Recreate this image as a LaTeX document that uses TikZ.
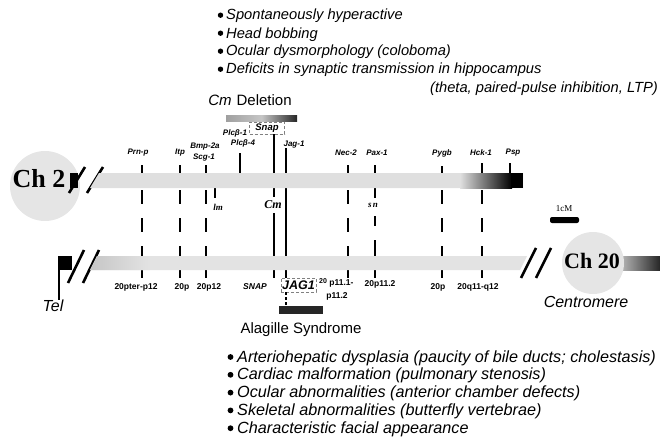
\documentclass[tikz,border=0pt]{standalone}
\usepackage{fontspec}
\setmainfont{Liberation Serif}
\setsansfont{Liberation Sans}
\usetikzlibrary{positioning,calc}

\begin{document}
\begin{tikzpicture}[x=1pt, y=-1pt,
  sym/.style={anchor=base west, inner sep=0pt, font=\sffamily\itshape\fontsize{14.7}{17}\selectfont},
  symlow/.style={sym, font=\sffamily\itshape\fontsize{16.2}{18}\selectfont},
  gene/.style={inner sep=0pt, font=\sffamily\bfseries\itshape\fontsize{8}{9}\selectfont},
  band/.style={inner sep=0pt, font=\sffamily\bfseries\fontsize{8.5}{10}\selectfont},
  mut/.style={inner sep=0pt, font=\rmfamily\bfseries\itshape\fontsize{9}{10}\selectfont},
  disc/.style={circle, fill=gray!20, inner sep=0pt},
  chlabel/.style={inner sep=0pt},
  note/.style={inner sep=0pt, font=\sffamily\fontsize{15}{17}\selectfont},
  tag/.style={draw=gray, densely dashed, inner sep=0pt},
  tick/.style={line width=1.4pt},
  dashtick/.style={line width=1.2pt},
  slash/.style={line width=2.6pt},
]
  \useasboundingbox (0,0) rectangle (660,436);

  % mouse phenotype
  \foreach \txt [count=\i] in {Spontaneously hyperactive, Head bobbing, Ocular dysmorphology (coloboma), Deficits in synaptic transmission in hippocampus}{
    \node[sym] (mouse\i) at (226,{2+18*\i}) {\txt};
    \fill ($(mouse\i.base west)+(-5.5,-4.8)$) circle (2.7pt);
  }
  \node[sym, anchor=base east] (mouse5) at (658,92) {(theta, paired-pulse inhibition, LTP)};

  \node[note] (del) at (250,100) {\textit{Cm}\hspace{5pt}Deletion};
  \shade[left color=gray!75, right color=black!85, middle color=gray!45] (226,115) rectangle (297,121);
  \node[tag, minimum width=35pt, minimum height=12pt, font=\sffamily\bfseries\itshape\fontsize{9.5}{10}\selectfont] (snap) at (267,128) {Snap};

  % loci, top
  \foreach \x/\y in {142/165, 180/165, 206/165, 240/153, 348/165, 375/165, 442/166, 482/163, 510/163}
    \draw[tick] (\x,\y) -- (\x,174);
  \draw[tick] (snap.south -| 274,0) -- (274,174);
  \draw[tick] (286,148) -- (286,256);
  \draw[tick] (274,188) -- (274,197);
  \draw[tick] (274,213) -- (274,256);
  \draw[tick] (215,188) -- (215,198);
  \foreach \x in {142,180,206,348,442,482}
    \foreach \a/\b in {190/204, 218/232, 246/256}
      \draw[dashtick] (\x,\a) -- (\x,\b);
  \foreach \a/\b in {188/198, 216/226, 240/256}
    \draw[dashtick] (375,\a) -- (375,\b);
  \foreach \x in {142,180,206,274,286,348,375,442,482}
    \draw[tick] (\x,269) -- (\x,278);

  \node[gene] (prnp) at (138,153) {Prn-p};
  \node[gene] (itp) at (180,153) {Itp};
  \node[gene] (bmp) at (205,147) {Bmp-2a};
  \node[gene] (scg) at (204,158) {Scg-1};
  \node[gene] (plcb1) at (235,133) {Plcβ-1};
  \node[gene] (plcb4) at (243,143) {Plcβ-4};
  \node[gene] (jag) at (294,145) {Jag-1};
  \node[gene] (nec) at (346,153) {Nec-2};
  \node[gene] (pax) at (377,153) {Pax-1};
  \node[gene] (pygb) at (442,153) {Pygb};
  \node[gene] (hck) at (481,153) {Hck-1};
  \node[gene] (psp) at (513,153) {Psp};

  \node[mut] (lm) at (218,207) {lm};
  \node[mut, font=\rmfamily\bfseries\itshape\fontsize{12}{13}\selectfont] (cm) at (273,205) {Cm};
  \node[mut] (sn) at (373,205) {s\,n};

  % Ch 2
  \node[disc, minimum size=70pt] (ch2disc) at (45,186) {};
  \node[chlabel, font=\rmfamily\bfseries\fontsize{26}{28}\selectfont] (ch2) at (39,179) {Ch 2};
  \fill (70,173) rectangle (78,188);
  \draw[slash] (69,193) -- (85,167);
  \draw[slash] (87,193) -- (103,167);
  \fill[gray!25] (90,188) -- (99,173) -- (523,173) -- (523,188) -- cycle;
  \shade[left color=gray!25, right color=black] (460,173) rectangle (512,188);
  \fill (511,173) rectangle (523,188);

  % Ch 20
  \fill (58,256) rectangle (72,270);
  \draw[line width=1.2pt] (59,256) -- (59,300);
  \draw[slash] (68,283) -- (84,250);
  \draw[slash] (83,283) -- (99,250);
  \fill[gray!22] (90,270) -- (97,256) -- (527,256) -- (520,270) -- cycle;
  \shade[left color=gray!45, right color=gray!22] (90,270) -- (97,256) -- (150,256) -- (150,270) -- cycle;
  \draw[slash] (521,278) -- (536,248);
  \draw[slash] (536,278) -- (551,248);
  \shade[left color=gray!60, right color=black!85] (622,256) rectangle (660,270);
  \node[disc, minimum size=62pt] (ch20disc) at (593,263) {};
  \node[chlabel, font=\rmfamily\bfseries\fontsize{22}{24}\selectfont] (ch20) at (592,261) {Ch 20};
  \node[note, font=\sffamily\itshape\fontsize{16}{17}\selectfont] (tel) at (53,306) {Tel};
  \node[note, font=\sffamily\itshape\fontsize{16}{17}\selectfont] (centro) at (586,302) {Centromere};

  \node[font=\rmfamily\fontsize{9}{10}\selectfont, inner sep=0pt] (scale) at (564,209) {1cM};
  \fill[rounded corners=2pt] (550,217) rectangle (579,223);

  % bands, bottom
  \node[band] (b1) at (136,287) {20pter-p12};
  \node[band] (b2) at (182,287) {20p};
  \node[band] (b3) at (209,287) {20p12};
  \node[band, font=\sffamily\bfseries\itshape\fontsize{8.5}{10}\selectfont] (snaplbl) at (255,287) {SNAP};
  \node[tag, minimum width=35pt, minimum height=14pt, font=\sffamily\bfseries\itshape\fontsize{12.5}{13}\selectfont] (jag1) at (298.5,285) {JAG1};
  \node[band, anchor=base west] (b4) at (319,285) {\raisebox{2pt}{\fontsize{7}{8}\selectfont 20} p11.1-};
  \node[band, anchor=base] (b4b) at (337,298) {p11.2};
  \node[band] (b5) at (380,284) {20p11.2};
  \node[band] (b6) at (438,287) {20p};
  \node[band] (b7) at (478,287) {20q11-q12};

  \draw[dashtick, densely dashed] (jag1.south -| 286,0) -- (286,306);
  \fill[black!85] (279,306) rectangle (323,314);
  \node[note] (alagille) at (301,330) {Alagille Syndrome};

  % human phenotype
  \foreach \txt [count=\i] in {Arteriohepatic dysplasia (paucity of bile ducts; cholestasis), Cardiac malformation (pulmonary stenosis), Ocular abnormalities (anterior chamber defects), Skeletal abnormalities (butterfly vertebrae), Characteristic facial appearance}{
    \node[symlow] (human\i) at (237,{344.2+17.8*\i}) {\txt};
    \fill ($(human\i.base west)+(-6.5,-5)$) circle (2.9pt);
  }
\end{tikzpicture}
\end{document}
